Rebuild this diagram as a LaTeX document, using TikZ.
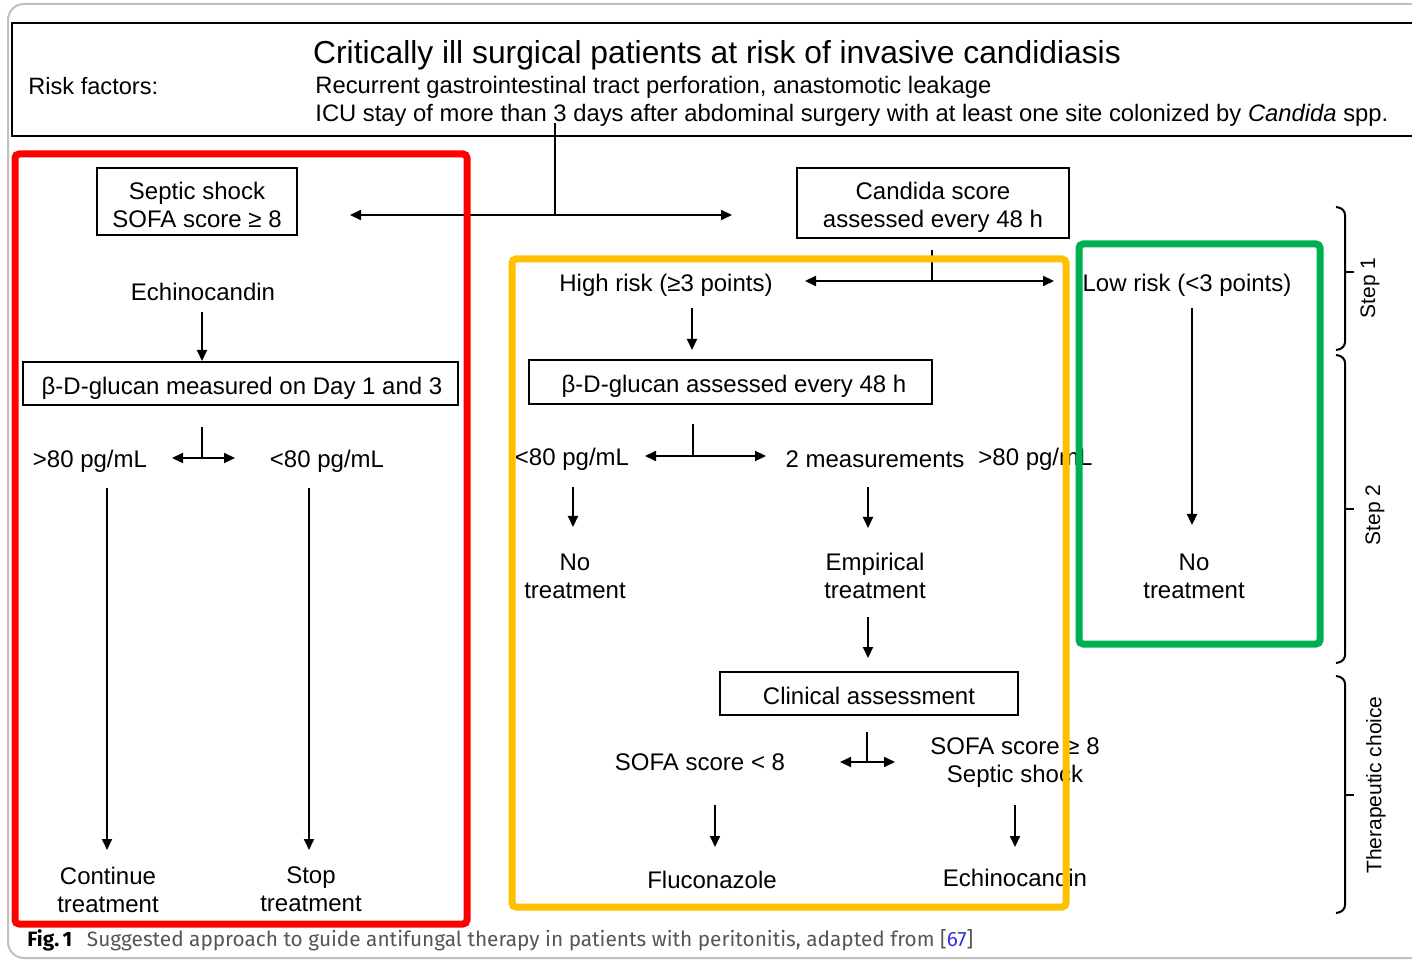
\documentclass[tikz,border=0pt]{standalone}
\usepackage{fontspec}
\setmainfont{Liberation Sans}
\newfontfamily\capfont{Fira Sans}
\usetikzlibrary{arrows.meta}
\definecolor{frred}{RGB}{255,0,0}
\definecolor{fryellow}{RGB}{255,192,0}
\definecolor{frgreen}{RGB}{0,176,80}
\definecolor{capgray}{RGB}{85,85,85}
\definecolor{refblue}{RGB}{50,50,220}

\begin{document}
\begin{tikzpicture}[x=0.5pt,y=-0.5pt]
	\tikzset{fcbox/.style={draw, line width=1pt, inner sep=0pt}}
	\tikzset{fctext/.style={inner sep=0pt, align=center,
				font=\fontsize{12}{14}\selectfont}}
	\tikzset{fcline/.style={line width=1pt}}
	\tikzset{fcarrow/.style={line width=1pt, -{Triangle[length=5.5pt, width=5pt]}}}
	\tikzset{fcboth/.style={line width=1pt, {Triangle[length=5.5pt, width=5pt]}-{Triangle[length=5.5pt, width=5pt]}}}
	\tikzset{frame/.style={line width=3.5pt, rounded corners=2pt}}
	\tikzset{steplabel/.style={rotate=90, inner sep=0pt, font=\fontsize{10.5}{12}\selectfont}}

	\useasboundingbox (0,0) rectangle (1412,961);
	\draw[gray!50, line width=1pt, rounded corners=8pt] (1430,4) -- (8,4) -- (8,958) -- (1430,958);

	% header
	\draw[line width=1.2pt] (1430,23) -- (12,23) -- (12,136) -- (1430,136);
	\node[inner sep=0pt, anchor=west, font=\fontsize{11.8}{13}\selectfont] (risk) at (28,86) {Risk factors:};
	\node[inner sep=0pt, font=\fontsize{15.9}{17}\selectfont] (title) at (717,55)
		{Critically ill surgical patients at risk of invasive candidiasis};
	\node[inner sep=0pt, anchor=west, font=\fontsize{11.9}{13}\selectfont] (rf1) at (315,87)
		{Recurrent gastrointestinal tract perforation, anastomotic leakage};
	\node[inner sep=0pt, anchor=west, font=\fontsize{11.9}{13}\selectfont] (rf2) at (315,115)
		{ICU stay of more than 3 days after abdominal surgery with at least one site colonized by \textit{Candida} spp.};

	% first split
	\coordinate (top) at (555,123);
	\coordinate (topsplit) at (555,215);
	\coordinate (topleft) at (350,215);
	\coordinate (topright) at (732,215);
	\draw[fcline] (top) -- (topsplit);
	\draw[fcboth] (topleft) -- (topright);

	% left branch: septic shock
	\node[fcbox, minimum width=100pt, minimum height=33.5pt] (shock) at (197,201.5) {};
	\node[fctext] (shocktxt) at (197,205) {Septic shock\\SOFA score ≥ 8};
	\node[fctext] (echi1) at (203,292) {Echinocandin};
	\node[fcbox, minimum width=217.5pt, minimum height=21.5pt] (bdg1) at (240.5,383.5) {};
	\node[fctext] (bdg1txt) at (242,388) {β-D-glucan measured on Day 1 and 3};
	\draw[fcarrow] (202,312) -- (bdg1.north -| 202,0);
	\coordinate (lsplit) at (202,427);
	\coordinate (lsplitl) at (172,458);
	\coordinate (lsplitr) at (235,458);
	\draw[fcline] (lsplit) -- (lsplit |- lsplitl);
	\draw[fcboth] (lsplitl) -- (lsplitr);
	\node[fctext] (hi1) at (90,461) {>80 pg/mL};
	\node[fctext] (lo1) at (327,461) {<80 pg/mL};
	\node[fctext] (cont) at (108,890) {Continue\\treatment};
	\node[fctext] (stop) at (311,889) {Stop\\treatment};
	\draw[fcarrow] (107,488) -- (107,850);
	\draw[fcarrow] (309,488) -- (309,850);

	% candida score
	\node[fcbox, minimum width=136pt, minimum height=35pt] (cscore) at (933,203) {};
	\node[fctext] (cscoretxt) at (933,207) {Candida score\\assessed every 48 h};
	\coordinate (csplit) at (932,250);
	\coordinate (csplitl) at (805,281);
	\coordinate (csplitr) at (1054,281);
	\draw[fcline] (csplit) -- (csplit |- csplitl);
	\draw[fcboth] (csplitl) -- (csplitr);

	% high risk
	\node[fctext] (high) at (666,285) {High risk (≥3 points)};
	\node[fcbox, minimum width=201.5pt, minimum height=22pt] (bdg2) at (730.5,382) {};
	\node[fctext] (bdg2txt) at (734,386) {β-D-glucan assessed every 48 h};
	\draw[fcarrow] (692,308) -- (692,350);
	\coordinate (hsplit) at (693,424);
	\coordinate (hsplitl) at (645,456);
	\coordinate (hsplitr) at (766,456);
	\draw[fcline] (hsplit) -- (hsplit |- hsplitl);
	\draw[fcboth] (hsplitl) -- (hsplitr);
	\node[fctext] (lo2) at (572,459) {<80 pg/mL};
	\node[fctext] (meas) at (875,459) {2 measurements};
	\node[fctext, anchor=west] (hi2) at (978,459) {>80 pg/mL};
	\node[fctext] (notr1) at (575,576) {No\\treatment};
	\node[fctext] (empi) at (875,576) {Empirical\\treatment};
	\draw[fcarrow] (573,487) -- (573,527);
	\draw[fcarrow] (868,487) -- (868,528);
	\node[fcbox, minimum width=149pt, minimum height=21.5pt] (clin) at (869,693.5) {};
	\node[fctext] (clintxt) at (869,696) {Clinical assessment};
	\draw[fcarrow] (868,617) -- (868,658);
	\coordinate (ssplit) at (867,732);
	\coordinate (ssplitl) at (840,762);
	\coordinate (ssplitr) at (895,762);
	\draw[fcline] (ssplit) -- (ssplit |- ssplitl);
	\draw[fcboth] (ssplitl) -- (ssplitr);
	\node[fctext] (sofalo) at (700,762) {SOFA score < 8};
	\node[fctext] (sofahi) at (1015,763) {SOFA score ≥ 8\\Septic shock};
	\node[fctext] (fluco) at (712,880) {Fluconazole};
	\node[fctext] (echi2) at (1015,878) {Echinocandin};
	\draw[fcarrow] (715,805) -- (715,847);
	\draw[fcarrow] (1015,805) -- (1015,847);

	% low risk
	\node[fctext] (low) at (1187,285) {Low risk (<3 points)};
	\node[fctext] (notr2) at (1194,576) {No\\treatment};
	\draw[fcarrow] (1192,308) -- (1192,525);

	% coloured frames
	\draw[frame, frred] (15,154) rectangle (467,924);
	\draw[frame, fryellow] (512,259) rectangle (1066,907);
	\draw[frame, frgreen] (1079,244) rectangle (1320,644);

	% brackets
	\draw[fcline, rounded corners=3pt] (1336,207) -- (1345,209) -- (1345,348) -- (1336,350);
	\draw[fcline] (1345,272) -- (1354,272);
	\draw[fcline, rounded corners=3pt] (1336,355) -- (1345,357) -- (1345,661) -- (1336,663);
	\draw[fcline] (1345,509) -- (1354,509);
	\draw[fcline, rounded corners=3pt] (1336,676) -- (1345,678) -- (1345,911) -- (1336,913);
	\draw[fcline] (1345,795) -- (1354,795);
	\node[steplabel] (step1) at (1370,288) {Step 1};
	\node[steplabel] (step2) at (1375,515) {Step 2};
	\node[steplabel] (step3) at (1376,785) {Therapeutic choice};

	% caption
	\node[inner sep=0pt, anchor=west, font=\capfont\fontsize{10.4}{12}\selectfont] (cap) at (27,940)
		{\textbf{Fig.\,1}\hspace{0.7em}\textcolor{capgray}{Suggested approach to guide antifungal therapy in patients with peritonitis, adapted from [\textcolor{refblue}{67}]}};
\end{tikzpicture}
\end{document}
